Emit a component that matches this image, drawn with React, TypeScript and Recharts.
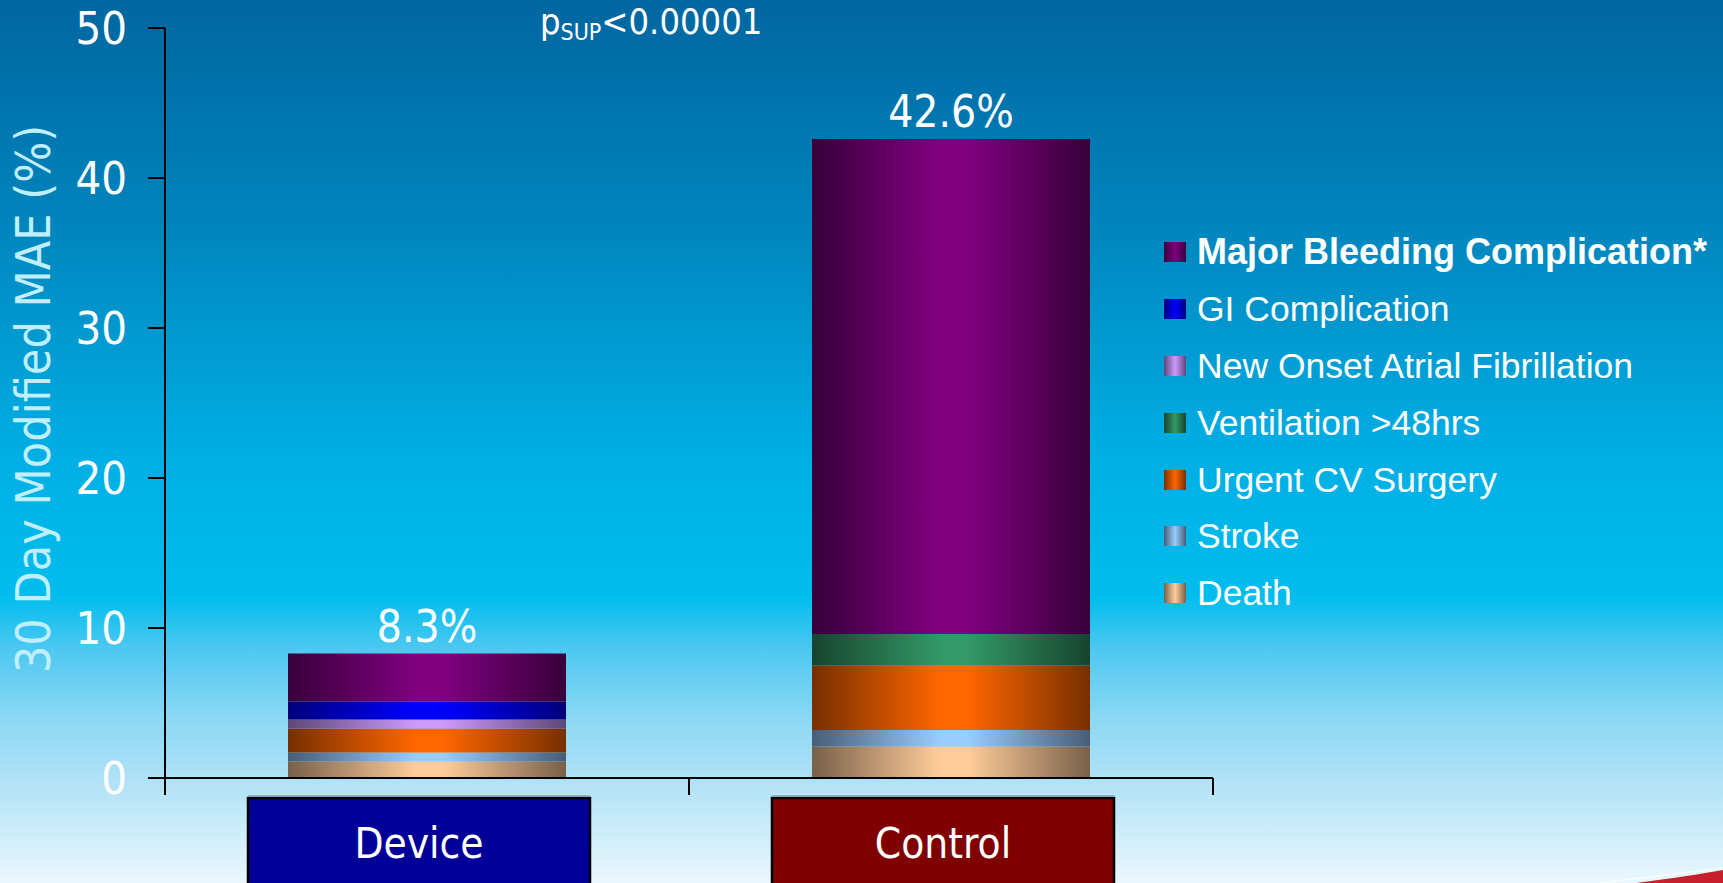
import React from "react";
import { BarChart, Bar, XAxis, YAxis, LabelList, Label } from "recharts";

// 30-day modified MAE by arm, stacked by event type (%)
const groups = ["Device", "Control"];
const death = [1.1, 2.1];
const stroke = [0.6, 1.1];
const urgentCvSurgery = [1.6, 4.3];
const ventilation48 = [0, 2.1];
const newOnsetAf = [0.6, 0];
const giComplication = [1.2, 0];
const majorBleeding = [3.2, 33.0];
const yTicks = [0, 10, 20, 30, 40, 50];

// stacking order, bottom to top
const series = [
    { key: "death", name: "Death", values: death },
    { key: "stroke", name: "Stroke", values: stroke },
    { key: "urgent", name: "Urgent CV Surgery", values: urgentCvSurgery },
    { key: "vent", name: "Ventilation >48hrs", values: ventilation48 },
    { key: "af", name: "New Onset Atrial Fibrillation", values: newOnsetAf },
    { key: "gi", name: "GI Complication", values: giComplication },
    { key: "bleed", name: "Major Bleeding Complication*", values: majorBleeding },
];

const shades: Record<string, { edge: string; mid: string }> = {
    death: { edge: "#78604a", mid: "#ffcc99" },
    stroke: { edge: "#475d76", mid: "#99ccff" },
    urgent: { edge: "#772f00", mid: "#ff6600" },
    vent: { edge: "#17442f", mid: "#339966" },
    af: { edge: "#5c4878", mid: "#cc99ff" },
    gi: { edge: "#00007a", mid: "#0000ff" },
    bleed: { edge: "#38003a", mid: "#800080" },
};
const groupFill = ["#000099", "#800000"];

const data = groups.map((g, i) => {
    const row: any = { group: g };
    let total = 0;
    series.forEach((s) => {
        row[s.key] = s.values[i];
        total += s.values[i];
    });
    row.total = total.toFixed(1) + "%";
    return row;
});

const tahoma = "'DejaVu Sans Condensed', 'DejaVu Sans', sans-serif";
const arial = "'Liberation Sans', Arial, sans-serif";

const GroupTick = (props: any) => {
    const { x, y, payload, index } = props;
    const half = 262;
    return (
        <g>
            <line x1={x - half} x2={x - half} y1={y} y2={y + 17} stroke="#000" strokeWidth={2} />
            <line x1={x + half} x2={x + half} y1={y} y2={y + 17} stroke="#000" strokeWidth={2} />
            <rect x={x - 179} y={y + 20} width={342} height={110} fill={groupFill[index]} stroke="#000" strokeWidth={2.5} />
            <line x1={x - 179} x2={x + 163} y1={y + 18} y2={y + 18} stroke="#7da0b4" strokeWidth={1.5} />
            <text x={x - 8} y={y + 80} textAnchor="middle" fill="#fff" fontSize={42} fontFamily={tahoma} fontStretch="condensed">
                {payload.value}
            </text>
        </g>
    );
};

const YTitle = (props: any) => {
    const vb = props.viewBox;
    const cx = vb.x + 33;
    const cy = vb.y + vb.height / 2 - 4;
    return (
        <text x={cx} y={cy} transform={`rotate(-90 ${cx} ${cy})`} textAnchor="middle" dominantBaseline="central"
            fill="#bfeefc" fontSize={48} fontFamily={tahoma} fontStretch="condensed">
            30 Day Modified MAE (%)
        </text>
    );
};

export default function App() {
    const legendRows = [...series].reverse();
    return (
        <div
            style={{
                position: "fixed",
                left: 0,
                top: 0,
                width: 1723,
                height: 883,
                overflow: "hidden",
                background:
                    "linear-gradient(to bottom, #0066a0 0%, #0084bc 25%, #00aee4 51%, #00bdee 67.5%, #4ec8f1 73.6%, #88d8f4 81%, #aee1f6 88%, #eaf7fd 100%)",
            }}
        >
            <BarChart width={1723} height={883} data={data} margin={{ top: 28, right: 510, left: 0, bottom: 0 }}>
                <defs>
                    {series.map((s) => (
                        <linearGradient key={s.key} id={`shade-${s.key}`} x1="0" y1="0" x2="1" y2="0">
                            <stop offset="0%" stopColor={shades[s.key].edge} />
                            <stop offset="46%" stopColor={shades[s.key].mid} />
                            <stop offset="56%" stopColor={shades[s.key].mid} />
                            <stop offset="100%" stopColor={shades[s.key].edge} />
                        </linearGradient>
                    ))}
                </defs>
                <XAxis
                    dataKey="group"
                    height={105}
                    interval={0}
                    tickSize={0}
                    tickMargin={0}
                    tickLine={false}
                    axisLine={{ stroke: "#000", strokeWidth: 2 }}
                    tick={GroupTick}
                />
                <YAxis
                    width={165}
                    domain={[0, 50]}
                    ticks={yTicks}
                    interval={0}
                    tickSize={17}
                    tickMargin={21}
                    axisLine={{ stroke: "#000", strokeWidth: 2 }}
                    tickLine={{ stroke: "#000", strokeWidth: 2 }}
                    tick={{ fill: "#fff", fontSize: 45, fontFamily: tahoma, fontStretch: "condensed" } as any}
                >
                    <Label content={YTitle} />
                </YAxis>
                {series.map((s, i) => (
                    <Bar key={s.key} dataKey={s.key} name={s.name} stackId="mae" barSize={278}
                        fill={`url(#shade-${s.key})`} stroke="none" isAnimationActive={false}>
                        {i === series.length - 1 && (
                            <LabelList dataKey="total" position="top" offset={12} fill="#fff"
                                fontSize={44} fontFamily={tahoma} style={{ fontStretch: "condensed" }} />
                        )}
                    </Bar>
                ))}
            </BarChart>

            <div style={{ position: "absolute", left: 540, top: 1, color: "#fff", fontFamily: tahoma, fontStretch: "condensed", fontSize: 36, whiteSpace: "nowrap" }}>
                p<sub style={{ fontSize: 23, verticalAlign: "-6px" }}>SUP</sub>&lt;0.00001
            </div>

            <div style={{ position: "absolute", left: 1164, top: 224 }}>
                {legendRows.map((s) => (
                    <div key={s.key} style={{ display: "flex", alignItems: "center", height: 56.8 }}>
                        <div
                            style={{
                                width: 22,
                                height: 20,
                                marginRight: 11,
                                background: `linear-gradient(to right, ${shades[s.key].edge}, ${shades[s.key].mid} 50%, ${shades[s.key].edge})`,
                            }}
                        />
                        <span style={{ color: "#fff", fontFamily: arial, fontSize: s.key === "bleed" ? 36 : 35.5, fontWeight: s.key === "bleed" ? 700 : 400, whiteSpace: "nowrap", lineHeight: "40px" }}>
                            {s.name}
                        </span>
                    </div>
                ))}
            </div>

            <svg style={{ position: "absolute", left: 0, top: 0 }} width={1723} height={883}>
                <path d="M1636,883 Q1690,876 1723,870 L1723,883 Z" fill="#c8202a" />
                <path d="M1600,883 Q1680,873 1723,868" fill="none" stroke="#ffffff" strokeWidth={1.5} opacity={0.8} />
            </svg>
        </div>
    );
}
